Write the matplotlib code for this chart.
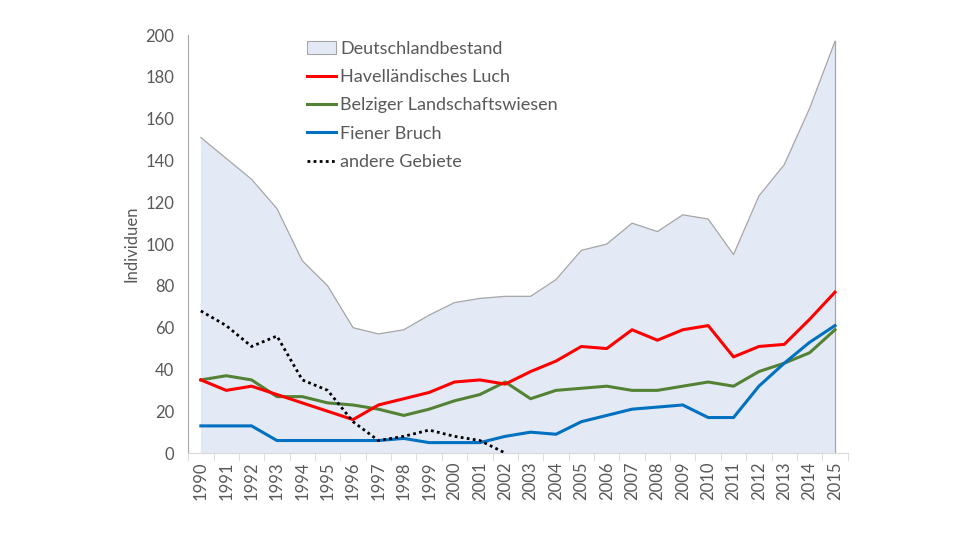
import matplotlib.pyplot as plt
import numpy as np
from matplotlib.patches import Patch

years = [str(y) for y in range(1990, 2016)]
deutschland = [151, 141, 131, 117, 92, 80, 60, 57, 59, 66, 72, 74, 75, 75, 83, 97,
               100, 110, 106, 114, 112, 95, 123, 138, 165, 197]
havelland = [35, 30, 32, 28, 24, 20, 16, 23, 26, 29, 34, 35, 33, 39, 44, 51,
             50, 59, 54, 59, 61, 46, 51, 52, 64, 77]
belzig = [35, 37, 35, 27, 27, 24, 23, 21, 18, 21, 25, 28, 34, 26, 30, 31,
          32, 30, 30, 32, 34, 32, 39, 43, 48, 59]
fiener = [13, 13, 13, 6, 6, 6, 6, 6, 7, 5, 5, 5, 8, 10, 9, 15,
          18, 21, 22, 23, 17, 17, 32, 43, 53, 61]
andere = [68, 61, 51, 56, 35, 30, 15, 6, 8, 11, 8, 6, 0]

plt.rcParams['font.family'] = ['Lato', 'DejaVu Sans']
grey = '#595959'

fig = plt.figure(figsize=(9.6, 5.4), dpi=100)
ax = fig.add_axes([0.196, 0.161, 0.687, 0.774])

x = np.arange(len(years))
ax.fill_between(x, deutschland, color='#E4EAF5', edgecolor='none', zorder=1)
ax.plot(x, deutschland, color='#A6A6A6', lw=0.9, zorder=2)
ax.plot([x[-1], x[-1]], [0, deutschland[-1]], color='#A6A6A6', lw=0.9, zorder=2)
ax.plot(x, havelland, color='#FF0000', lw=2.2, zorder=4, label='Havelländisches Luch')
ax.plot(x, belzig, color='#548235', lw=2.2, zorder=3, label='Belziger Landschaftswiesen')
ax.plot(x, fiener, color='#0070C0', lw=2.2, zorder=3, label='Fiener Bruch')
ax.plot(x[:len(andere)], andere, color='black', lw=2, ls=(0, (1, 1.2)), zorder=5,
        label='andere Gebiete')

handles, labels = ax.get_legend_handles_labels()
handles = [Patch(facecolor='#E4EAF5', edgecolor='#A6A6A6', lw=0.8)] + handles
labels = ['Deutschlandbestand'] + labels
leg = ax.legend(handles, labels, loc='upper left', bbox_to_anchor=(0.155, 1.025),
                frameon=False, fontsize=13, handlelength=1.6, handletextpad=0.25,
                labelspacing=0.68, labelcolor=grey)

ax.set_xlim(-0.5, len(years) - 0.5)
ax.set_ylim(0, 200)
ax.set_yticks(range(0, 201, 20))
ax.set_xticks(x)
ax.set_xticklabels(years, rotation=90)
ax.set_xticks(np.arange(-0.5, len(years), 1), minor=True)
ax.tick_params(axis='x', which='major', length=0, pad=6, labelsize=12, labelcolor=grey)
ax.tick_params(axis='x', which='minor', length=6, color='#D9D9D9')
ax.tick_params(axis='y', length=0, pad=10, labelsize=12, labelcolor=grey)
ax.set_ylabel('Individuen', fontsize=12, color=grey, labelpad=4)

for s in ['top', 'right']:
    ax.spines[s].set_visible(False)
ax.spines['left'].set_color('#A6A6A6')
ax.spines['bottom'].set_color('#D9D9D9')

fig.savefig('out.png', dpi=100)
